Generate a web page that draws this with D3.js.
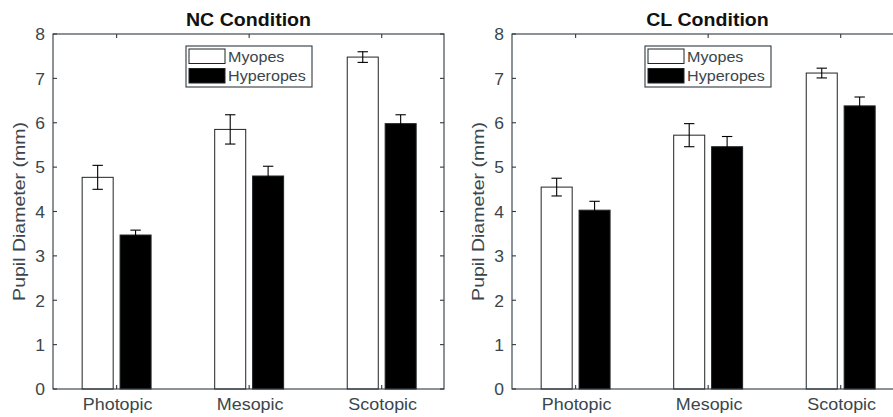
<!DOCTYPE html>
<html>
<head>
<meta charset="utf-8">
<script src="https://cdn.jsdelivr.net/npm/d3@7"></script>
<style>
  html, body { margin: 0; padding: 0; background: #fff; }
  svg { display: block; }
  text { font-family: "Liberation Sans", Arial, Helvetica, sans-serif; }
</style>
</head>
<body>
<svg id="chart" width="893" height="417"></svg>
<script>
// ---- data ----
const categories = ["Photopic", "Mesopic", "Scotopic"];
const seriesNames = ["Myopes", "Hyperopes"];
const panelTitles = ["NC Condition", "CL Condition"];
const yTicks = [0, 1, 2, 3, 4, 5, 6, 7, 8];
const yLabel = "Pupil Diameter (mm)";

const ncMyopes = [4.77, 5.85, 7.48];
const ncMyopesErr = [0.27, 0.33, 0.12];
const ncHyperopes = [3.47, 4.80, 5.98];
const ncHyperopesErr = [0.11, 0.22, 0.20];

const clMyopes = [4.55, 5.72, 7.12];
const clMyopesErr = [0.20, 0.26, 0.11];
const clHyperopes = [4.03, 5.46, 6.38];
const clHyperopesErr = [0.20, 0.23, 0.20];

const panels = [
  { title: panelTitles[0], series: [ncMyopes, ncHyperopes], errs: [ncMyopesErr, ncHyperopesErr] },
  { title: panelTitles[1], series: [clMyopes, clHyperopes], errs: [clMyopesErr, clHyperopesErr] }
];

// ---- style / layout ----
const axisColor = "#2f3a3f";
const textColor = "#3a464b";
const fills = ["#ffffff", "#000000"];
const panelLeft = [53, 512];
const panelW = 391;
const plotTop = 34, plotBottom = 389;
const sx = 1.11;
const barOffset = 0.143, barWidth = 0.234;
const capHalf = 5.2;
const tickLen = 4;

const svg = d3.select("#chart");

function label(g, x, y, str, o) {
  o = o || {};
  const t = g.append("text")
    .attr("transform", `translate(${x},${y}) ${o.rotate ? "rotate(" + o.rotate + ")" : ""} scale(${o.scale || sx},1)`)
    .attr("text-anchor", o.anchor || "middle")
    .attr("font-size", o.size || 16)
    .attr("fill", o.color || textColor)
    .text(str);
  if (o.bold) t.attr("font-weight", "bold");
  if (o.baseline) t.attr("dominant-baseline", o.baseline);
  return t;
}

panels.forEach((p, pi) => {
  const x0 = panelLeft[pi];
  const g = svg.append("g");
  const x = d3.scaleLinear().domain([0.52, 3.47]).range([x0, x0 + panelW]);
  const y = d3.scaleLinear().domain([0, 8]).range([plotBottom, plotTop]);

  // bars
  p.series.forEach((vals, si) => {
    const off = si === 0 ? -barOffset : barOffset;
    const bw = x(barWidth) - x(0);
    g.selectAll(null).data(vals).enter().append("rect")
      .attr("x", (d, i) => x(i + 1 + off) - bw / 2)
      .attr("y", d => y(d))
      .attr("width", bw)
      .attr("height", d => y(0) - y(d))
      .attr("fill", fills[si])
      .attr("stroke", "#1f2426")
      .attr("stroke-width", 1);
  });

  // error bars
  p.series.forEach((vals, si) => {
    const off = si === 0 ? -barOffset : barOffset;
    const errs = p.errs[si];
    vals.forEach((v, i) => {
      const cx = x(i + 1 + off);
      const e = errs[i];
      const eg = g.append("g").attr("stroke", "#000").attr("stroke-width", 1.1);
      eg.append("line").attr("x1", cx).attr("x2", cx).attr("y1", y(v - e)).attr("y2", y(v + e));
      eg.append("line").attr("x1", cx - capHalf).attr("x2", cx + capHalf).attr("y1", y(v + e)).attr("y2", y(v + e));
      eg.append("line").attr("x1", cx - capHalf).attr("x2", cx + capHalf).attr("y1", y(v - e)).attr("y2", y(v - e));
    });
  });

  // axes box
  const ax = g.append("g").attr("stroke", axisColor).attr("stroke-width", 1.1).attr("fill", "none");
  ax.append("rect").attr("x", x0).attr("y", plotTop).attr("width", panelW).attr("height", plotBottom - plotTop);
  yTicks.forEach(t => {
    ax.append("line").attr("x1", x0).attr("x2", x0 + tickLen).attr("y1", y(t)).attr("y2", y(t));
    ax.append("line").attr("x1", x0 + panelW).attr("x2", x0 + panelW - tickLen).attr("y1", y(t)).attr("y2", y(t));
  });
  categories.forEach((c, i) => {
    ax.append("line").attr("x1", x(i + 1)).attr("x2", x(i + 1)).attr("y1", plotBottom).attr("y2", plotBottom - tickLen);
    ax.append("line").attr("x1", x(i + 1)).attr("x2", x(i + 1)).attr("y1", plotTop).attr("y2", plotTop + tickLen);
  });

  // tick labels
  yTicks.forEach(t => {
    label(g, x0 - 8, y(t) + 1, String(t), { anchor: "end", baseline: "central", size: 16.5, scale: 1.06 });
  });
  categories.forEach((c, i) => {
    label(g, x(i + 1) + 1, 410, c, { size: 16, scale: 1.12 });
  });

  // y label
  label(g, x0 - 33, (plotTop + plotBottom) / 2, yLabel, { rotate: -90, baseline: "central", size: 16, scale: 1.22 });

  // title
  label(g, x0 + panelW / 2, 26, p.title, { bold: true, size: 17.5, scale: 1.12, color: "#111" });

  // legend
  const lx = x0 + 133, ly = 46;
  const lg = g.append("g");
  lg.append("rect").attr("x", lx).attr("y", ly).attr("width", 126).attr("height", 41)
    .attr("fill", "#fff").attr("stroke", axisColor).attr("stroke-width", 1.1);
  seriesNames.forEach((s, si) => {
    const sy = ly + 3 + si * 19.5;
    lg.append("rect").attr("x", lx + 3).attr("y", sy).attr("width", 36).attr("height", 14.5)
      .attr("fill", fills[si]).attr("stroke", "#1f2426").attr("stroke-width", 1);
    label(lg, lx + 42, sy + 7.5, s, { anchor: "start", baseline: "central", size: 14.4, scale: 1.12 });
  });
});
</script>
</body>
</html>
